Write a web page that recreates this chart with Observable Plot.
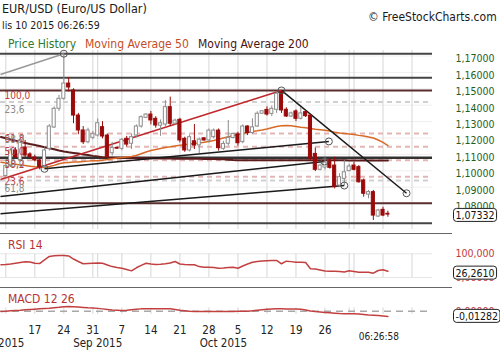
<!DOCTYPE html>
<html>
<head>
<meta charset="utf-8">
<script src="https://cdn.jsdelivr.net/npm/d3@7"></script>
<script src="https://cdn.jsdelivr.net/npm/@observablehq/plot@0.6"></script>
<style>
html,body{margin:0;padding:0;background:#fff}
body{width:500px;height:350px;overflow:hidden;position:relative;font-family:"DejaVu Sans Condensed","DejaVu Sans",sans-serif}
.t{position:absolute;white-space:nowrap;line-height:1}
.sep{position:absolute;left:0;width:452px;height:1px;background:#666}
.panel{position:absolute;left:0}
.panel svg{display:block;overflow:visible}
</style>
</head>
<body>
<div class="t" style="left:2px;top:2.5px;font-size:12.5px;color:#1a1a1a">EUR/USD (Euro/US Dollar)</div>
<div class="t" style="left:2px;top:20px;font-size:10.5px;color:#1a1a1a">lis 10 2015 06:26:59</div>
<div class="t" style="left:368px;top:11px;font-size:12px;color:#1a1a1a">© FreeStockCharts.com</div>
<div class="t" style="left:8px;top:37.5px;font-size:12px;color:#2e7a2e">Price History</div>
<div class="t" style="left:85px;top:37.5px;font-size:12px;color:#c44d1f">Moving Average 50</div>
<div class="t" style="left:198px;top:37.5px;font-size:12px;color:#4a1212">Moving Average 200</div>
<div id="price" class="panel" style="top:50px"></div>
<div class="sep" style="top:233px"></div>
<div id="rsi" class="panel" style="top:233px"></div>
<div class="sep" style="top:287px"></div>
<div id="macd" class="panel" style="top:287px"></div>
<div class="t" style="left:8px;top:238.5px;font-size:12px;color:#b83232">RSI 14</div>
<div class="t" style="left:8px;top:292.5px;font-size:12px;color:#b83232">MACD 12 26</div>
<script>
// ---------- DATA ----------
const dates = ["08-10","08-11","08-12","08-13","08-14","08-16","08-17","08-18","08-19","08-20","08-21","08-23",
"08-24","08-25","08-26","08-27","08-28","08-30","08-31","09-01","09-02","09-03","09-04","09-06",
"09-07","09-08","09-09","09-10","09-11","09-13","09-14","09-15","09-16","09-17","09-18","09-20",
"09-21","09-22","09-23","09-24","09-25","09-27","09-28","09-29","09-30","10-01","10-02","10-04",
"10-05","10-06","10-07","10-08","10-09","10-11","10-12","10-13","10-14","10-15","10-16","10-18",
"10-19","10-20","10-21","10-22","10-23","10-25","10-26","10-27","10-28","10-29","10-30","11-01",
"11-02","11-03","11-04","11-05","11-06","11-08","11-09","11-10"];
const futureDates = ["11-11","11-12","11-13","11-15","11-16"];

const open = [1.0968,1.1033,1.1124,1.1065,1.1142,1.1100,1.1081,1.1063,1.1024,1.1134,1.1264,1.1378,
1.1439,1.1532,1.1490,1.1337,1.1246,1.1174,1.1201,1.1215,1.1266,1.1215,1.1107,1.1140,
1.1134,1.1195,1.1165,1.1215,1.1270,1.1323,1.1343,1.1317,1.1275,1.1282,1.1388,1.1287,
1.1311,1.1195,1.1124,1.1180,1.1155,1.1198,1.1185,1.1205,1.1245,1.1134,1.1165,1.1200,
1.1222,1.1175,1.1270,1.1230,1.1270,1.1348,1.1371,1.1347,1.1372,1.1479,1.1372,1.1331,
1.1362,1.1317,1.1358,1.1337,1.1103,1.1006,1.1020,1.1063,1.1032,1.0910,1.0951,1.0998,
1.1032,1.1022,1.0941,1.0855,1.0870,1.0721,1.0762,1.0738];
const high = [1.1042,1.1135,1.1140,1.1200,1.1185,1.1110,1.1095,1.1075,1.1140,1.1282,1.1390,1.1460,
1.1714,1.1569,1.1500,1.1350,1.1270,1.1260,1.1240,1.1317,1.1300,1.1225,1.1174,1.1145,
1.1197,1.1210,1.1225,1.1280,1.1335,1.1348,1.1362,1.1330,1.1310,1.1428,1.1449,1.1315,
1.1320,1.1205,1.1218,1.1282,1.1200,1.1202,1.1255,1.1255,1.1255,1.1180,1.1307,1.1230,
1.1235,1.1280,1.1275,1.1317,1.1360,1.1368,1.1390,1.1395,1.1480,1.1490,1.1385,1.1358,
1.1372,1.1385,1.1366,1.1342,1.1139,1.1040,1.1080,1.1075,1.1083,1.0982,1.1063,1.1040,
1.1052,1.1032,1.0950,1.0880,1.0880,1.0765,1.0778,1.0754];
const low = [1.0955,1.1020,1.1070,1.1055,1.1080,1.1075,1.1055,1.1006,1.1012,1.1120,1.1258,1.1362,
1.1429,1.1480,1.1287,1.1220,1.1160,1.1165,1.1190,1.1205,1.1195,1.1073,1.1090,1.1130,
1.1122,1.1145,1.1130,1.1200,1.1260,1.1318,1.1280,1.1260,1.1210,1.1270,1.1270,1.1280,
1.1170,1.1113,1.1115,1.1130,1.1104,1.1180,1.1170,1.1195,1.1120,1.1125,1.1150,1.1195,
1.1150,1.1165,1.1215,1.1222,1.1265,1.1345,1.1334,1.1330,1.1350,1.1350,1.1325,1.1325,
1.1300,1.1310,1.1325,1.1063,1.0995,1.1000,1.1005,1.1010,1.0890,1.0900,1.0910,1.0995,
1.1000,1.0925,1.0839,1.0829,1.0697,1.0715,1.0720,1.0717];
const close = [1.1030,1.1124,1.1080,1.1185,1.1093,1.1083,1.1063,1.1022,1.1124,1.1270,1.1378,1.1439,
1.1532,1.1508,1.1337,1.1246,1.1174,1.1246,1.1223,1.1290,1.1209,1.1083,1.1140,1.1135,
1.1189,1.1160,1.1205,1.1270,1.1327,1.1343,1.1307,1.1276,1.1290,1.1388,1.1287,1.1306,
1.1185,1.1124,1.1205,1.1154,1.1190,1.1185,1.1245,1.1245,1.1138,1.1164,1.1200,1.1225,
1.1168,1.1270,1.1230,1.1265,1.1348,1.1363,1.1343,1.1378,1.1470,1.1368,1.1331,1.1350,
1.1317,1.1350,1.1333,1.1073,1.1006,1.1032,1.1050,1.1018,1.0900,1.0961,1.0991,1.1026,
1.1006,1.0930,1.0860,1.0870,1.0727,1.0758,1.0727,1.07332];

// indicators: first value belongs to Sunday 08-09 (one slot before dates[0])
const ma50 = [1.1052,1.1048,1.1043,1.1040,1.1036,1.1032,1.1028,1.1024,1.1021,1.1020,1.1026,1.1033,1.1043,
1.1049,1.1051,1.1053,1.1054,1.1057,1.1059,1.1061,1.1062,1.1065,1.1069,1.1074,1.1078,1.1081,1.1084,
1.1087,1.1093,1.1104,1.1115,1.1124,1.1130,1.1136,1.1142,1.1146,1.1151,1.1156,1.1159,1.1163,1.1166,
1.1170,1.1174,1.1179,1.1185,1.1193,1.1200,1.1207,1.1215,1.1221,1.1227,1.1234,1.1240,1.1244,1.1249,
1.1255,1.1263,1.1270,1.1274,1.1276,1.1274,1.1270,1.1265,1.1262,1.1258,1.1254,1.1251,1.1247,1.1242,
1.1235,1.1230,1.1227,1.1224,1.1221,1.1216,1.1212,1.1206,1.1200,1.1188,1.1173,1.1154];
const ma200 = [1.1206,1.1198,1.1191,1.1184,1.1177,1.1170,1.1163,1.1157,1.1151,1.1144,1.1138,1.1131,1.1124,
1.1118,1.1113,1.1109,1.1105,1.1100,1.1096,1.1091,1.1087,1.1083,1.1081,1.1080,1.1080,1.1079,1.1079,
1.1078,1.1078,1.1077,1.1077,1.1076,1.1076,1.1075,1.1075,1.1075,1.1074,1.1074,1.1074,1.1073,1.1073,
1.1073,1.1072,1.1072,1.1072,1.1071,1.1070,1.1068,1.1066,1.1065,1.1064,1.1064,1.1064,1.1064,1.1064,
1.1064,1.1064,1.1064,1.1064,1.1064,1.1064,1.1064,1.1064,1.1064,1.1064,1.1064,1.1064,1.1064,1.1064,
1.1064,1.1064,1.1064,1.1063,1.1063,1.1063,1.1063,1.1063,1.1063,1.1063,1.1063,1.1063];
const rsi = [53.6,55,57,60,63,66,65,60,59,74,89,92,93,93,91,78,67.5,58,59,60,61,60,53,46,42,39,34,28,41,51,
60,57,55,56,58,61,67.5,57,55,54,53.6,46,43,43,42,39,40,42,43,39,48.5,57,64.5,68,70,71,72,72,58,69,67,
64.5,64.5,63,37,36,31.6,27.4,26.6,26.6,25.3,23.2,28.3,25.3,22.4,22.4,22.4,18.1,29.5,32.5,26.261];
const macd = [-0.0007,0,0.001,0.0017,0.0024,0.0034,0.0041,0.0048,0.0056,0.0065,0.0072,0.0085,0.0094,0.0106,
0.0114,0.0109,0.0101,0.0092,0.0082,0.0075,0.0068,0.0056,0.0043,0.0029,0.0022,0.0017,0.0022,0.0034,0.0046,
0.0056,0.0058,0.0058,0.0058,0.0058,0.0058,0.0058,0.0041,0.0024,0.001,-0.0002,-0.0007,-0.0007,-0.0007,
-0.0007,-0.0007,-0.0007,-0.0007,-0.0007,-0.0005,-0.0002,0,0,0.001,0.0024,0.0036,0.0046,0.0053,0.0058,
0.0056,0.0053,0.0051,0.0051,0.0048,0.0029,0.0005,-0.001,-0.0019,-0.0029,-0.0039,-0.0048,-0.0056,-0.006,
-0.0063,-0.0063,-0.0068,-0.008,-0.0092,-0.0099,-0.0104,-0.0116,-0.01282];

const priceTicks = [1.17,1.16,1.15,1.14,1.13,1.12,1.11,1.10,1.09,1.08];
const levelsGrey = [1.1714,1.1567,1.0680];
const levelsBrown = [1.1490,1.0802];
const levelsBlack = [1.1079];
const fibRed = {lo:1.0802, hi:1.1490, lines:[23.6,38.2,50,61.8], labels:[100,61.8,50,38.2,23.6]};
const fibGrey = {top:1.1714, range:0.125, lines:[23.6,61.8], labels:[23.6,38.2,50,61.8]};
// trendline anchors: [slot, price] -> [slot, price]
const trendGrey = [{s1:-1.1,v1:1.1587,s2:12,v2:1.1714}];
const trendRed = [{s1:-1.1,v1:1.0947,s2:57,v2:1.1490}];
const trendBlack = [
  {s1:57,v1:1.1490,s2:82.86,v2:1.0863},
  {s1:8,v1:1.1012,s2:66.8,v2:1.1179},
  {s1:-1.1,v1:1.0843,s2:65.9,v2:1.1057},
  {s1:-1.1,v1:1.0738,s2:70,v2:1.0910}
];
const anchorDots = [{s:12,v:1.1714},{s:57,v:1.1490},{s:82.86,v:1.0863},{s:8,v:1.1012},
  {s:66.8,v:1.1179},{s:65.9,v:1.1057},{s:70,v:1.0910}];

const gridDates = ["08-10","08-17","08-24","08-31","09-01","09-07","09-14","09-21","09-28","10-05","10-12",
  "10-19","10-26","11-01","11-02","11-09","11-16"];
const weekLabels = [["08-17","17"],["08-24","24"],["08-31","31"],["09-07","7"],["09-14","14"],["09-21","21"],
  ["09-28","28"],["10-05","5"],["10-12","12"],["10-19","19"],["10-26","26"]];
const monthLabels = [["09-01","Sep 2015"],["10-01","Oct 2015"]];
const firstMonthLabel = "Aug 2015";
const timeLabel = "06:26:58";

// ---------- BUILD ----------
const slotOf = d => { const i = dates.indexOf(d); return i >= 0 ? i : dates.length + futureDates.indexOf(d); };
const candles = dates.map((d,i)=>({s:i,o:open[i],h:high[i],l:low[i],c:close[i]}));
const ind = arr => arr.map((v,i)=>({s:i-1,v}));
const grid = gridDates.map(slotOf);
const comma = (v,n) => v.toFixed(n).replace(".",",");
const xDomain = [-1.096, 88.23];
const FONT = '"DejaVu Sans Condensed","DejaVu Sans",sans-serif';
const common = {width:500, marginLeft:0, marginRight:68, marginTop:0, marginBottom:0,
  x:{domain:xDomain, axis:null}, style:{fontFamily:FONT, fontSize:"10.5px", background:"transparent", overflow:"visible"}};
const RED = "#c03a3a";
const up = d => d.c >= d.o;

const fibRedLvl = p => fibRed.lo + p/100*(fibRed.hi-fibRed.lo);
const fibGreyLvl = p => fibGrey.top - p/100*fibGrey.range;

const price = Plot.plot({...common, height:179,
  y:{domain:[1.064207,1.173354], axis:null},
  marks:[
    Plot.ruleY(priceTicks,{stroke:"#efefef"}),
    Plot.ruleX(grid,{stroke:"#d6d6d6"}),
    Plot.ruleY(fibGrey.lines.map(fibGreyLvl),{stroke:"#d0d0d0",strokeWidth:2,strokeDasharray:"5,4"}),
    Plot.ruleY(fibRed.lines.map(fibRedLvl),{stroke:"#e3b6b6",strokeWidth:2,strokeDasharray:"5,4"}),
    Plot.ruleY(levelsGrey,{stroke:"#454545",strokeWidth:2}),
    Plot.ruleY(levelsBrown,{stroke:"#5a2d2d",strokeWidth:2}),
    Plot.ruleY(levelsBlack,{stroke:"#333",strokeWidth:2.5}),
    Plot.line(ind(ma200),{x:"s",y:"v",stroke:"#5a1c1c",strokeWidth:2}),
    Plot.line(ind(ma50),{x:"s",y:"v",stroke:"#d86a28",strokeWidth:1.5}),
    Plot.link(trendGrey,{x1:"s1",y1:"v1",x2:"s2",y2:"v2",stroke:"#999",strokeWidth:1.5}),
    Plot.link(trendRed,{x1:"s1",y1:"v1",x2:"s2",y2:"v2",stroke:"#c0282d",strokeWidth:1.6}),
    Plot.link(trendBlack,{x1:"s1",y1:"v1",x2:"s2",y2:"v2",stroke:"#1a1a1a",strokeWidth:1.5}),
    Plot.ruleX(candles,{filter:up,x:"s",y1:"l",y2:"h",stroke:"#8c8c8c"}),
    Plot.ruleX(candles,{filter:d=>!up(d),x:"s",y1:"l",y2:"h",stroke:"#9a0a0a"}),
    Plot.rect(candles,{filter:up,x1:d=>d.s-0.32,x2:d=>d.s+0.32,y1:"o",y2:"c",fill:"white",stroke:"#8c8c8c"}),
    Plot.rect(candles,{filter:d=>!up(d),x1:d=>d.s-0.32,x2:d=>d.s+0.32,y1:"o",y2:"c",fill:"#9a0a0a",stroke:"#9a0a0a"}),
    Plot.dot(anchorDots,{x:"s",y:"v",r:3.5,stroke:"#555",fill:"none",strokeWidth:1}),
    Plot.text(fibRed.labels,{y:fibRedLvl,text:p=>comma(p,1),frameAnchor:"left",dx:4,dy:5,textAnchor:"start",fill:RED,fontSize:10}),
    Plot.text(fibGrey.labels,{y:fibGreyLvl,text:p=>comma(p,1),frameAnchor:"left",dx:4,dy:8,textAnchor:"start",fill:"#8a8a8a",fontSize:10}),
    Plot.text(priceTicks,{y:d=>d,text:d=>comma(d,5),frameAnchor:"right",dx:23,dy:3,textAnchor:"start",fill:"#1f5f1f"}),
    Plot.text([close[close.length-1]],{y:d=>d,text:d=>comma(d,5),frameAnchor:"right",dx:23,dy:1,textAnchor:"start",fill:"#111"})
  ]});

const rsiPlot = Plot.plot({...common, height:54,
  y:{domain:[-42.2,185.7], axis:null},
  marks:[
    Plot.ruleY([0,100],{stroke:"#e6e6e6"}),
    Plot.ruleX(grid,{y1:0,y2:100,stroke:"#d6d6d6"}),
    Plot.line(ind(rsi),{x:"s",y:"v",stroke:"#c24040",strokeWidth:1.5}),
    Plot.text([100,0],{y:d=>d,text:d=>d===100?"100,000":"0,00000",frameAnchor:"right",dx:23,textAnchor:"start",fill:RED}),
    Plot.text([rsi[rsi.length-1]],{y:d=>d,text:d=>comma(d,4),frameAnchor:"right",dx:23,dy:2,textAnchor:"start",fill:"#111"})
  ]});

const macdPlot = Plot.plot({...common, height:63,
  y:{domain:[-0.0949,0.0572], axis:null},
  marks:[
    Plot.ruleX(grid,{y1:0.008,y2:-0.008,stroke:"#d6d6d6"}),
    Plot.ruleY([0],{stroke:"#a8a8a8",strokeWidth:1.5,strokeDasharray:"7,5"}),
    Plot.line(ind(macd),{x:"s",y:"v",stroke:"#c24040",strokeWidth:1.5}),
    Plot.text([0],{y:d=>d,text:()=>"0,00000",frameAnchor:"right",dx:23,textAnchor:"start",fill:RED}),
    Plot.text([macd[macd.length-1]],{y:d=>d,text:d=>comma(d,5),frameAnchor:"right",dx:23,textAnchor:"start",fill:"#111"}),
    Plot.text(weekLabels,{x:d=>slotOf(d[0]),text:d=>d[1],frameAnchor:"bottom",lineAnchor:"middle",dy:-20,fill:"#222",fontSize:11.5}),
    Plot.text(monthLabels,{x:d=>slotOf(d[0]),text:d=>d[1],frameAnchor:"bottom",lineAnchor:"middle",dy:-7,fill:"#222",fontSize:11.5}),
    Plot.text([firstMonthLabel],{frameAnchor:"bottom-left",lineAnchor:"middle",dx:-1,dy:-7,textAnchor:"middle",fill:"#222",fontSize:11.5}),
    Plot.text([timeLabel],{x:()=>dates.length-1,text:d=>d,frameAnchor:"bottom",lineAnchor:"middle",dx:-9,dy:-13.5,fill:"#222",fontSize:10})
  ]});

document.getElementById("price").appendChild(price);
document.getElementById("rsi").appendChild(rsiPlot);
document.getElementById("macd").appendChild(macdPlot);

function boxify(svg, str){
  const t = [...svg.querySelectorAll("text")].find(e => e.textContent === str);
  if(!t) return;
  const b = t.getBBox();
  const r = document.createElementNS("http://www.w3.org/2000/svg","rect");
  r.setAttribute("x", b.x-2); r.setAttribute("y", b.y-0.5);
  r.setAttribute("width", b.width+4); r.setAttribute("height", b.height+1);
  r.setAttribute("rx", 3); r.setAttribute("fill","white"); r.setAttribute("stroke","#222");
  if(t.getAttribute("transform")) r.setAttribute("transform", t.getAttribute("transform"));
  t.parentNode.insertBefore(r, t);
}
boxify(price, comma(close[close.length-1],5));
boxify(rsiPlot, comma(rsi[rsi.length-1],4));
boxify(macdPlot, comma(macd[macd.length-1],5));
</script>
</body>
</html>
